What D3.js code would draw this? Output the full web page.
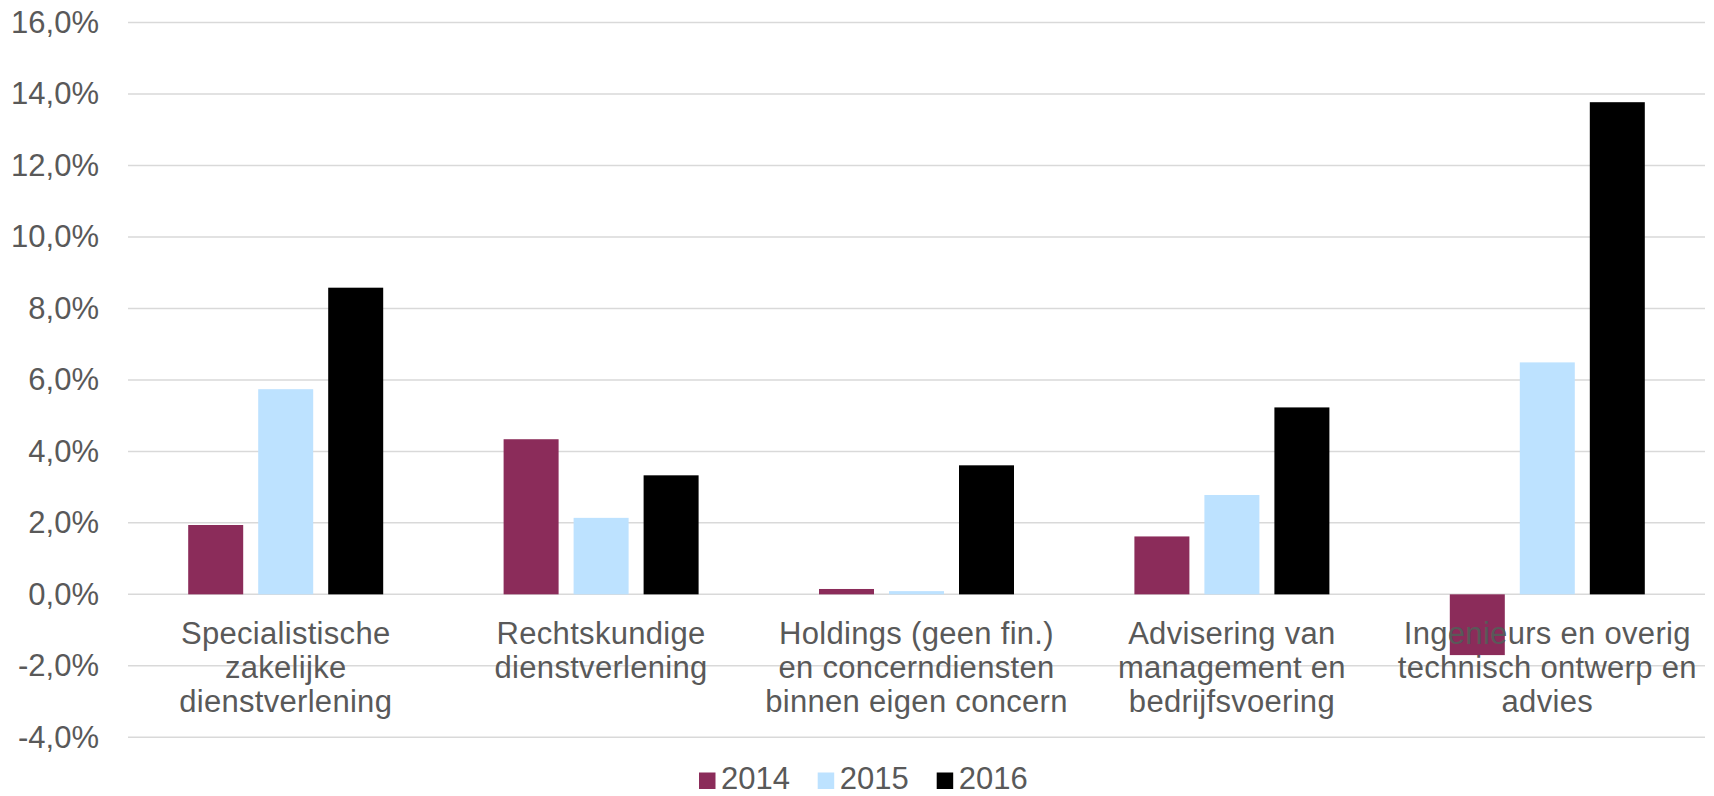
<!DOCTYPE html>
<html>
<head>
<meta charset="utf-8">
<script src="https://cdn.jsdelivr.net/npm/d3@7"></script>
<style>
  html, body { margin: 0; padding: 0; background: #fff; }
  svg { display: block; font-family: "Liberation Sans", Arial, sans-serif; }
</style>
</head>
<body>
<svg id="chart" width="1714" height="796"></svg>
<script>
// ---- data ----
const categories = [
  "Specialistische\nzakelijke\ndienstverlening",
  "Rechtskundige\ndienstverlening",
  "Holdings (geen fin.)\nen concerndiensten\nbinnen eigen concern",
  "Advisering van\nmanagement en\nbedrijfsvoering",
  "Ingenieurs en overig\ntechnisch ontwerp en\nadvies"
];
const seriesNames = ["2014", "2015", "2016"];
const values2014 = [1.94, 4.34, 0.15, 1.62, -1.70];
const values2015 = [5.74, 2.14, 0.09, 2.78, 6.49];
const values2016 = [8.58, 3.33, 3.61, 5.23, 13.77];
const yTicks = [-4, -2, 0, 2, 4, 6, 8, 10, 12, 14, 16];
const colors = ["#8B2C5A", "#BDE2FF", "#000000"];

const series = [values2014, values2015, values2016];

// ---- layout ----
const svg = d3.select("#chart");
const plotLeft = 128, plotRight = 1705;
const yTop = 22.5, yBottom = 737.3;
const textColor = "#595959";
const fontSize = 31;

const y = d3.scaleLinear().domain([-4, 16]).range([yBottom, yTop]);
const x0 = d3.scaleBand().domain(d3.range(categories.length)).range([plotLeft, plotRight]).paddingInner(0).paddingOuter(0);
const groupWidth = 195;
const x1 = d3.scaleBand().domain(d3.range(seriesNames.length)).range([0, groupWidth]).paddingInner(15 / 70).paddingOuter(0);

const fmt = v => d3.format(".1f")(v).replace(".", ",").replace("−", "-") + "%";

// gridlines
svg.append("g").selectAll("line").data(yTicks).join("line")
  .attr("x1", plotLeft).attr("x2", plotRight)
  .attr("y1", d => y(d)).attr("y2", d => y(d))
  .attr("stroke", "#d9d9d9").attr("stroke-width", 1.5);

// y tick labels
svg.append("g").selectAll("text").data(yTicks).join("text")
  .attr("x", 99).attr("y", d => y(d))
  .attr("text-anchor", "end").attr("dominant-baseline", "central")
  .attr("font-size", fontSize).attr("fill", textColor)
  .text(d => fmt(d));

// bars
const groups = svg.append("g").selectAll("g").data(categories).join("g")
  .attr("transform", (d, i) => `translate(${x0(i) + (x0.bandwidth() - groupWidth) / 2},0)`);

groups.selectAll("rect").data((d, i) => series.map((s, k) => ({k, v: s[i]}))).join("rect")
  .attr("x", d => x1(d.k))
  .attr("width", x1.bandwidth())
  .attr("y", d => y(Math.max(0, d.v)))
  .attr("height", d => Math.abs(y(d.v) - y(0)))
  .attr("fill", d => colors[d.k]);

// category labels
const lab = svg.append("g").selectAll("text").data(categories).join("text")
  .attr("text-anchor", "middle")
  .attr("font-size", fontSize).attr("letter-spacing", 0.3).attr("fill", textColor);
lab.each(function(d, i) {
  const t = d3.select(this);
  d.split("\n").forEach((line, j) => {
    t.append("tspan").attr("x", x0(i) + x0.bandwidth() / 2).attr("y", 643.5 + j * 34.2).text(line);
  });
});

// legend
const legendX = [699, 817.7, 936.7];
const legend = svg.append("g").selectAll("g").data(seriesNames).join("g")
  .attr("transform", (d, i) => `translate(${legendX[i]},0)`);
legend.append("rect").attr("x", 0).attr("y", 772.5).attr("width", 16.5).attr("height", 16.5)
  .attr("fill", (d, i) => colors[i]);
legend.append("text").attr("x", 22).attr("y", 788.5)
  .attr("font-size", fontSize).attr("fill", textColor).text(d => d);
</script>
</body>
</html>
